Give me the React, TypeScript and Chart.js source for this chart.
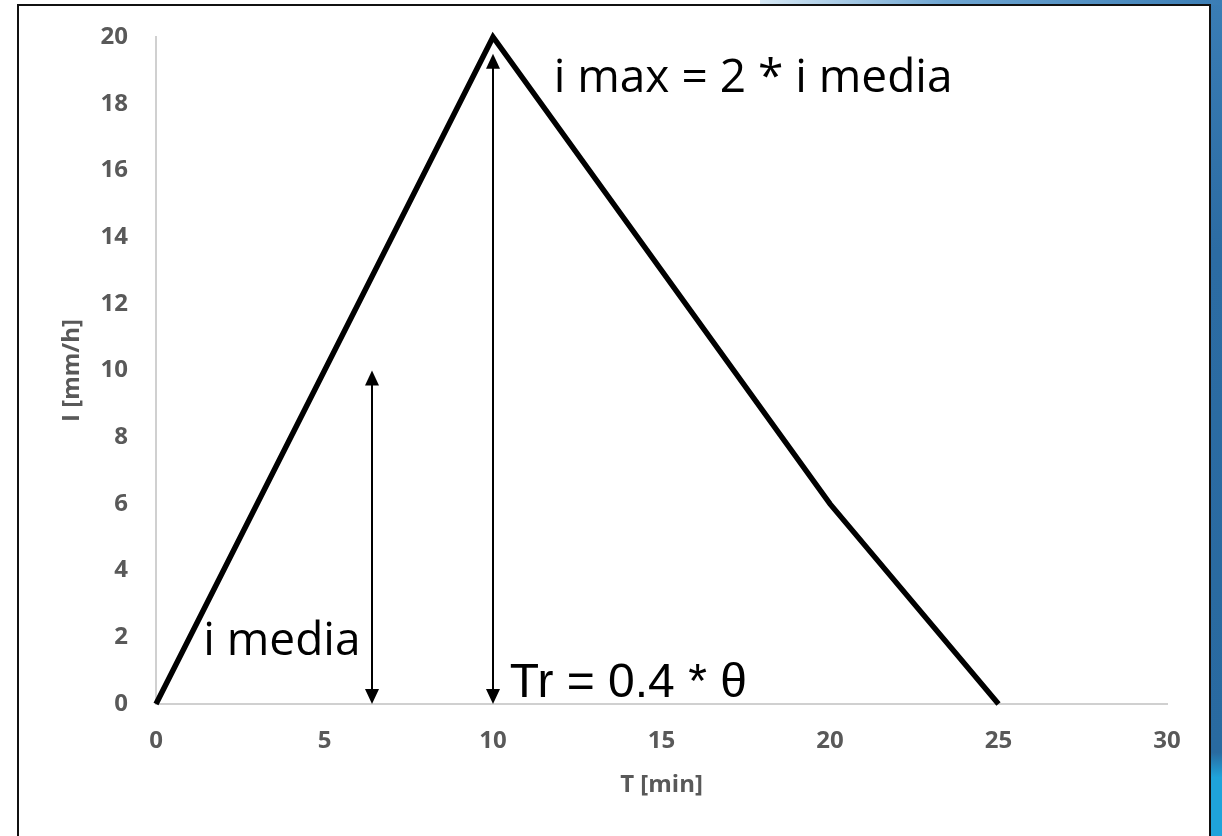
import React, { useEffect, useRef } from "react";
import { Chart, registerables } from "chart.js";

Chart.register(...registerables);

// Triangular design hyetograph: time [min] vs intensity [mm/h]
const timeMin = [0, 10, 20, 25];
const intensity = [0, 20, 6, 0];

const xTicks = [0, 5, 10, 15, 20, 25, 30];
const yTicks = [0, 2, 4, 6, 8, 10, 12, 14, 16, 18, 20];

// Double-headed arrows (x position, lower and upper value)
const arrowX = [6.4, 10];
const arrowFrom = [0, 0];
const arrowTo = [10, 19.5];

// Text notes, anchored at (x, y) in data units (left edge, baseline)
const noteTexts = ["i media", "i max = 2 * i media", "Tr = 0.4 * θ"];
const noteX = [1.4, 11.8, 10.5];
const noteY = [1.47, 18.35, 0.21];

const tickFont = { family: '"Open Sans", sans-serif', size: 24, weight: "bold" as const };
const greyText = "#595959";

const notesPlugin = {
  id: "notesAndArrows",
  afterDatasetsDraw(chart: any) {
    const { ctx, scales } = chart;
    const xs = scales.x;
    const ys = scales.y;
    ctx.save();
    ctx.strokeStyle = "#000";
    ctx.fillStyle = "#000";
    const head = 15;
    const half = 7;
    for (let i = 0; i < arrowX.length; i++) {
      const x = Math.round(xs.getPixelForValue(arrowX[i]));
      const yb = ys.getPixelForValue(arrowFrom[i]);
      const yt = ys.getPixelForValue(arrowTo[i]);
      ctx.lineWidth = 2;
      ctx.beginPath();
      ctx.moveTo(x, yb - head + 2);
      ctx.lineTo(x, yt + head - 2);
      ctx.stroke();
      ctx.beginPath();
      ctx.moveTo(x, yt);
      ctx.lineTo(x - half, yt + head);
      ctx.lineTo(x + half, yt + head);
      ctx.closePath();
      ctx.fill();
      ctx.beginPath();
      ctx.moveTo(x, yb);
      ctx.lineTo(x - half, yb - head);
      ctx.lineTo(x + half, yb - head);
      ctx.closePath();
      ctx.fill();
    }
    const fonts = ['46px "Open Sans"', '46px "Open Sans"', '48px "Liberation Sans", Arial'];
    ctx.textAlign = "left";
    ctx.textBaseline = "alphabetic";
    for (let i = 0; i < noteTexts.length; i++) {
      ctx.font = fonts[i];
      ctx.fillText(noteTexts[i], xs.getPixelForValue(noteX[i]), ys.getPixelForValue(noteY[i]));
    }
    ctx.restore();
  },
};

export default function App() {
  const canvasRef = useRef<HTMLCanvasElement | null>(null);

  useEffect(() => {
    const canvas = canvasRef.current;
    if (!canvas) return;
    const chart = new Chart(canvas, {
      type: "line",
      data: {
        datasets: [
          {
            data: timeMin.map((t, i) => ({ x: t, y: intensity[i] })),
            borderColor: "#000",
            borderWidth: 5.5,
            borderJoinStyle: "miter",
            pointRadius: 0,
            tension: 0,
            fill: false,
            clip: false as any,
          },
        ],
      },
      options: {
        responsive: false,
        animation: false,
        devicePixelRatio: 1,
        layout: { padding: { left: 0, top: 37, right: 55, bottom: 0 } },
        plugins: { legend: { display: false }, tooltip: { enabled: false } },
        scales: {
          x: {
            type: "linear",
            min: 0,
            max: 30,
            afterBuildTicks: (s: any) => {
              s.ticks = xTicks.map((v) => ({ value: v }));
            },
            afterFit: (s: any) => {
              s.height = 132;
              s.paddingLeft = 0;
              s.paddingRight = 0;
            },
            grid: { display: false, drawTicks: false },
            border: { display: true, color: "#d0d0d0", width: 2 },
            ticks: { font: tickFont, color: greyText, padding: 23, maxRotation: 0 },
            title: {
              display: true,
              text: "T [min]",
              font: tickFont,
              color: greyText,
              padding: { top: 0, bottom: 36 },
            },
          },
          y: {
            type: "linear",
            min: 0,
            max: 20,
            afterBuildTicks: (s: any) => {
              s.ticks = yTicks.map((v) => ({ value: v }));
            },
            afterFit: (s: any) => {
              s.width = 156;
              s.paddingTop = 0;
              s.paddingBottom = 0;
            },
            grid: { display: false, drawTicks: false },
            border: { display: true, color: "#d0d0d0", width: 2 },
            ticks: { font: tickFont, color: greyText, padding: 28 },
            title: {
              display: true,
              text: "I [mm/h]",
              font: tickFont,
              color: greyText,
              padding: { top: 58, bottom: 0 },
            },
          },
        },
      },
      plugins: [notesPlugin],
    } as any);
    return () => chart.destroy();
  }, []);

  return (
    <div
      style={{
        position: "fixed",
        left: 0,
        top: 0,
        width: 1222,
        height: 836,
        background: "#fff",
        overflow: "hidden",
      }}
    >
      <div
        style={{
          position: "absolute",
          left: 1211,
          top: 0,
          width: 11,
          height: 836,
          background:
            "linear-gradient(to bottom, #3a7db5 0%, #2c6ca3 30%, #296aa0 90%, #1fa3da 93%, #1fa3da 100%)",
        }}
      />
      <div
        style={{
          position: "absolute",
          left: 760,
          top: 0,
          width: 462,
          height: 5,
          background: "linear-gradient(to right, #d6e8f5, #6fa6d2 40%, #3a7db5 100%)",
        }}
      />
      <div
        style={{
          position: "absolute",
          left: 17,
          top: 4,
          width: 1194,
          height: 850,
          boxSizing: "border-box",
          border: "2px solid #111",
          background: "#fff",
        }}
      />
      <canvas
        ref={canvasRef}
        width={1222}
        height={836}
        style={{ position: "absolute", left: 0, top: 0, width: 1222, height: 836 }}
      />
    </div>
  );
}
